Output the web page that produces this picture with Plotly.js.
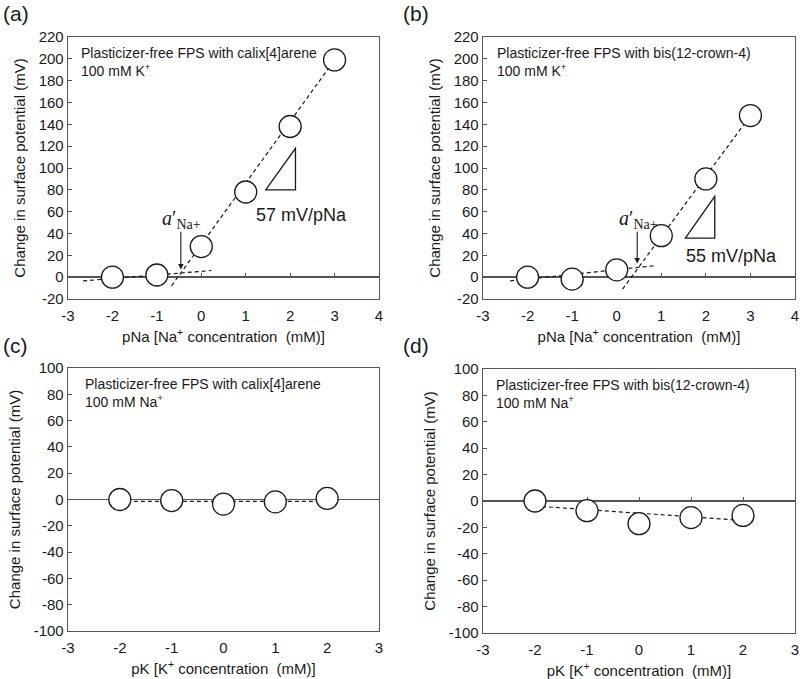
<!DOCTYPE html>
<html>
<head>
<meta charset="utf-8">
<script src="https://cdn.plot.ly/plotly-3.0.1.min.js"></script>
<style>html,body{margin:0;padding:0;background:#fff}#plot{width:800px;height:679px}</style>
</head>
<body>
<div id="plot"></div>
<script>
// ---- data ----
const pNa = [-2, -1, 0, 1, 2, 3];
const aY = [0, 2, 28, 78, 138, 199];
const bY = [0, -1.8, 6.7, 38, 90, 148];
const pK = [-2, -1, 0, 1, 2];
const cY = [0, -0.8, -3.5, -1.8, 0.8];
const dY = [0, -7.3, -17.2, -12.6, -10.9];

// fitted (dashed) lines, endpoints
const aLowX = [-2.66, 0.23], aLowY = [-3.4, 6.1];
const aHighX = [-0.67, 3], aHighY = [-8, 199];
const bLowX = [-2.39, 0.89], bLowY = [-3.4, 10.7];
const bHighX = [0.13, 3], bHighY = [-11, 148];
const cFitX = [-2, 2], cFitY = [-1.5, -1.5];
const dFitX = [-2, 2], dFitY = [-3.8, -14.7];

const slopeLabels = ["57 mV/pNa", "55 mV/pNa"];
const panelLabels = ["(a)", "(b)", "(c)", "(d)"];
const boxLine1 = ["Plasticizer-free FPS with calix[4]arene", "Plasticizer-free FPS with bis(12-crown-4)",
                  "Plasticizer-free FPS with calix[4]arene", "Plasticizer-free FPS with bis(12-crown-4)"];
const boxLine2 = ["100 mM K<sup>+</sup>", "100 mM K<sup>+</sup>", "100 mM Na<sup>+</sup>", "100 mM Na<sup>+</sup>"];
const xTitleTop = "pNa [Na<sup>+</sup> concentration  (mM)]";
const xTitleBot = "pK [K<sup>+</sup> concentration  (mM)]";
const yTitle = "Change in surface potential (mV)";

// ---- styling ----
const FONT = "Liberation Sans, Arial, sans-serif";
const TXT = "#1a1a1a";
const AX = "#555555";
const W = 800, H = 679;

const dom = {
  a: {x: [68 / W, 379 / W], y: [1 - 299 / H, 1 - 37 / H], r: [-20, 220], xr: [-3, 4]},
  b: {x: [483 / W, 795 / W], y: [1 - 299 / H, 1 - 37 / H], r: [-20, 220], xr: [-3, 4]},
  c: {x: [68 / W, 379 / W], y: [1 - 631 / H, 1 - 368 / H], r: [-100, 100], xr: [-3, 3]},
  d: {x: [483 / W, 795 / W], y: [1 - 633 / H, 1 - 369 / H], r: [-100, 100], xr: [-3, 3]}
};
const keys = ["a", "b", "c", "d"];

function ticks(lo, hi, step) {
  const v = [], t = [];
  for (let q = lo; q <= hi + 1e-9; q += step) { v.push(q); t.push(String(q)); }
  return {tickvals: v, ticktext: t};
}

function pts(x, y, xa, ya) {
  return {x: x, y: y, xaxis: xa, yaxis: ya, mode: "markers", type: "scatter", showlegend: false,
    marker: {symbol: "circle", size: 22, color: "#ffffff", line: {color: "#1a1a1a", width: 1.3}}, cliponaxis: false};
}
function fit(x, y, xa, ya) {
  return {x: x, y: y, xaxis: xa, yaxis: ya, mode: "lines", type: "scatter", showlegend: false,
    line: {color: "#1a1a1a", width: 1.2, dash: "4px,3px"}};
}

const data = [];

const layout = {
  width: W, height: H, margin: {l: 0, r: 0, t: 0, b: 0},
  paper_bgcolor: "#fff", plot_bgcolor: "#fff",
  font: {family: FONT, color: TXT, size: 15},
  showlegend: false, annotations: [], shapes: []
};

keys.forEach((k, i) => {
  const n = i + 1, s = n === 1 ? "" : String(n);
  const d = dom[k];
  const xt = ticks(d.xr[0], d.xr[1], 1), yt = ticks(d.r[0], d.r[1], 20);
  // tick marks sitting on the zero line (Excel-style crossing axis), below the markers
  const zeroPos = d.y[0] + (0 - d.r[0]) / (d.r[1] - d.r[0]) * (d.y[1] - d.y[0]);
  layout["xaxis" + (n + 4)] = {
    overlaying: "x" + s, anchor: "free", position: zeroPos, domain: d.x, range: d.xr,
    tickvals: xt.tickvals, layer: "below traces",
    showgrid: false, zeroline: false, showline: false, showticklabels: false,
    ticks: "inside", ticklen: 4, tickcolor: AX, tickwidth: 1
  };
  data.push({x: [], y: [], xaxis: "x" + (n + 4), yaxis: "y" + s, type: "scatter", mode: "markers", showlegend: false});

  layout["xaxis" + s] = {
    domain: d.x, range: d.xr, tickvals: xt.tickvals, ticktext: xt.ticktext, anchor: "y" + s,
    showgrid: false, zeroline: false,
    showline: true, mirror: true, linecolor: AX, linewidth: 1.3, ticks: "", ticklabelstandoff: 3,
    tickfont: {size: 15, family: FONT, color: TXT},
    title: {text: i < 2 ? xTitleTop : xTitleBot, font: {size: 15, family: FONT, color: TXT}, standoff: 8}
  };
  layout["yaxis" + s] = {
    domain: d.y, range: d.r, tickvals: yt.tickvals, ticktext: yt.ticktext, anchor: "x" + s, showgrid: false,
    zeroline: true, zerolinecolor: AX, zerolinewidth: 1.5,
    showline: true, mirror: true, linecolor: AX, linewidth: 1.3,
    ticks: "inside", ticklen: 4, tickcolor: AX, tickwidth: 1,
    tickfont: {size: 15, family: FONT, color: TXT},
    title: {text: yTitle, font: {size: 15, family: FONT, color: TXT}, standoff: 9}
  };

  // panel label
  layout.annotations.push({text: panelLabels[i], xref: "paper", yref: "paper",
    x: (i % 2 === 0 ? 1 : 401) / W, y: 1 - (i < 2 ? 13 : 345) / H, xanchor: "left", yanchor: "middle",
    showarrow: false, font: {size: 21, family: FONT, color: TXT}});
  // in-box text
  const off = [11, 12, 15, 11][i];
  layout.annotations.push({text: boxLine1[i], xref: "x" + s + " domain", yref: "y" + s + " domain",
    x: off / 311, y: 1 - 16 / (d.y[1] - d.y[0]) / H, xanchor: "left", yanchor: "middle",
    showarrow: false, font: {size: 14, family: FONT, color: TXT}});
  layout.annotations.push({text: boxLine2[i], xref: "x" + s + " domain", yref: "y" + s + " domain",
    x: off / 311, y: 1 - 33 / (d.y[1] - d.y[0]) / H, xanchor: "left", yanchor: "middle",
    showarrow: false, font: {size: 14, family: FONT, color: TXT}});
});

data.push(
  fit(aLowX, aLowY, "x", "y"), fit(aHighX, aHighY, "x", "y"), pts(pNa, aY, "x", "y"),
  fit(bLowX, bLowY, "x2", "y2"), fit(bHighX, bHighY, "x2", "y2"), pts(pNa, bY, "x2", "y2"),
  fit(cFitX, cFitY, "x3", "y3"), pts(pK, cY, "x3", "y3"),
  fit(dFitX, dFitY, "x4", "y4"), pts(pK, dY, "x4", "y4")
);

// a'Na+ arrows and labels
const arrows = [
  {xr: "x", yr: "y", x: -0.46, tip: 7, tail: 43, lx: -0.45, ly: 53},
  {xr: "x2", yr: "y2", x: 0.46, tip: 12.5, tail: 43, lx: 0.48, ly: 53}
];
arrows.forEach(a => {
  layout.annotations.push({text: "", xref: a.xr, yref: a.yr, x: a.x, y: a.tip,
    axref: a.xr, ayref: a.yr, ax: a.x, ay: a.tail, showarrow: true,
    arrowhead: 2, arrowsize: 1, arrowwidth: 1.1, arrowcolor: TXT});
  layout.annotations.push({text: "<i>a</i>′<sub>Na+</sub>", xref: a.xr, yref: a.yr, x: a.lx, y: a.ly,
    showarrow: false, font: {size: 20, family: "Liberation Serif, Times New Roman, serif", color: TXT}});
});

// slope triangles and labels
const tri = [
  {xr: "x", yr: "y", x0: 1.45, x1: 2.12, y0: 80, y1: 118, tx: 2.26, ty: 57},
  {xr: "x2", yr: "y2", x0: 1.54, x1: 2.20, y0: 35.8, y1: 74, tx: 2.57, ty: 19.6}
];
tri.forEach((t, i) => {
  layout.shapes.push({type: "path", xref: t.xr, yref: t.yr,
    path: `M${t.x0},${t.y0} L${t.x1},${t.y1} L${t.x1},${t.y0} Z`,
    line: {color: TXT, width: 1.3}, fillcolor: "rgba(0,0,0,0)"});
  layout.annotations.push({text: slopeLabels[i], xref: t.xr, yref: t.yr, x: t.tx, y: t.ty,
    showarrow: false, font: {size: 18, family: FONT, color: TXT}});
});

Plotly.newPlot("plot", data, layout, {staticPlot: true});
</script>
</body>
</html>
